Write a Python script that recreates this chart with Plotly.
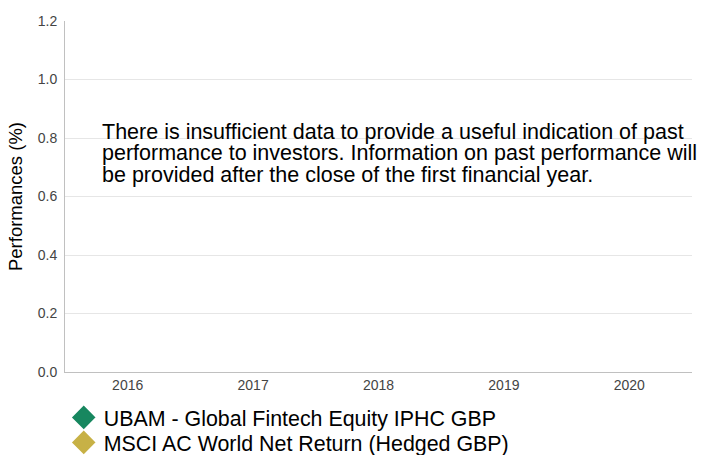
import plotly.graph_objects as go

years = ["2016", "2017", "2018", "2019", "2020"]
fund_values = [None, None, None, None, None]
index_values = [None, None, None, None, None]
fund_name = "UBAM - Global Fintech Equity IPHC GBP"
index_name = "MSCI AC World Net Return (Hedged GBP)"
y_range = [0, 1.2]
y_ticks = [0.0, 0.2, 0.4, 0.6, 0.8, 1.0, 1.2]
y_ticklabels = ["0.0", "0.2", "0.4", "0.6", "0.8", "1.0", "1.2"]
message_lines = [
    "There is insufficient data to provide a useful indication of past",
    "performance to investors. Information on past performance will",
    "be provided after the close of the first financial year.",
]
FONT = "Liberation Sans, Arial, Helvetica, sans-serif"

W, H = 701, 455

fig = go.Figure()
fig.add_trace(go.Scatter(x=years, y=fund_values, name=fund_name, mode="markers",
                         legend="legend",
                         marker=dict(symbol="diamond", color="#17875f", size=18,
                                     line=dict(color="#17875f", width=2))))
fig.add_trace(go.Scatter(x=years, y=index_values, name=index_name, mode="markers",
                         legend="legend2",
                         marker=dict(symbol="diamond", color="#c7b146", size=18,
                                     line=dict(color="#c7b146", width=2))))

anchor_y = 0.8 / (y_range[1] - y_range[0])
line_shifts = [6, -15.5, -37]
for line, shift in zip(message_lines, line_shifts):
    fig.add_annotation(x=0, y=anchor_y, xref="paper", yref="paper", xanchor="left",
                       yanchor="middle", xshift=35, yshift=shift, text=line,
                       showarrow=False, align="left",
                       font=dict(family=FONT, size=21.5, color="#000000"))

legend_common = dict(orientation="v", x=-0.002, xanchor="left", xref="paper",
                     yanchor="top", yref="container",
                     font=dict(size=21.4, color="#000000"),
                     bgcolor="rgba(0,0,0,0)")

fig.update_layout(
    width=W, height=H,
    margin=dict(l=65, r=9, t=21, b=83, autoexpand=False),
    plot_bgcolor="white", paper_bgcolor="white",
    font=dict(family=FONT, color="#444444"),
    showlegend=True,
    legend=dict(y=1 - 397 / H, **legend_common),
    legend2=dict(y=1 - 422 / H, **legend_common),
    xaxis=dict(type="category", categoryorder="array", categoryarray=years,
               range=[-0.5, 4.5], showgrid=False, showline=True, linecolor="#c0c0c0",
               linewidth=1, ticks="", tickfont=dict(size=14, color="#444444"),
               zeroline=False, automargin=False),
    yaxis=dict(range=y_range, tickvals=y_ticks, ticktext=y_ticklabels,
               showgrid=True, gridcolor="#e6e6e6", gridwidth=1,
               showline=True, linecolor="#c0c0c0", linewidth=1, ticks="",
               ticklabelstandoff=4,
               tickfont=dict(size=14, color="#444444"), zeroline=False, automargin=False,
               title=dict(text="Performances (%)", standoff=10,
                          font=dict(size=18.5, color="#000000"))),
)

fig.write_html(
    "out.html",
    config={"displayModeBar": False},
    post_script="document.body.style.margin='0';document.body.style.overflow='hidden';",
)
